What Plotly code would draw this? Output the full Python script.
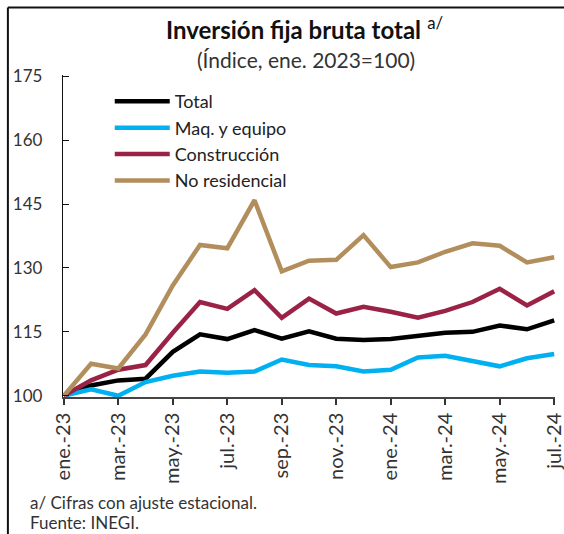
import plotly.graph_objects as go

# meses ene-2023 a jul-2024
meses = ['ene.-23', 'feb.-23', 'mar.-23', 'abr.-23', 'may.-23', 'jun.-23', 'jul.-23',
         'ago.-23', 'sep.-23', 'oct.-23', 'nov.-23', 'dic.-23', 'ene.-24', 'feb.-24',
         'mar.-24', 'abr.-24', 'may.-24', 'jun.-24', 'jul.-24']

total = [100.0, 102.4, 103.6, 104.0, 110.3, 114.4, 113.3, 115.4, 113.4, 115.1,
         113.4, 113.1, 113.3, 114.0, 114.8, 115.0, 116.5, 115.6, 117.7]
maquinaria = [100.0, 101.5, 100.0, 103.2, 104.7, 105.7, 105.4, 105.7, 108.5, 107.2,
              106.9, 105.7, 106.1, 109.0, 109.4, 108.2, 106.9, 108.8, 109.8]
construccion = [100.0, 103.6, 106.1, 107.2, 114.8, 122.0, 120.4, 124.8, 118.3, 122.8,
                119.3, 120.9, 119.7, 118.3, 119.9, 122.0, 125.1, 121.2, 124.5]
no_residencial = [100.0, 107.5, 106.4, 114.4, 125.9, 135.4, 134.6, 145.9, 129.2, 131.7,
                  131.9, 137.7, 130.2, 131.3, 133.8, 135.8, 135.2, 131.3, 132.5]

series = [
    ('Total', total, '#000000'),
    ('Maq. y equipo', maquinaria, '#00B0F0'),
    ('Construcción', construccion, '#9B2247'),
    ('No residencial', no_residencial, '#B38E5D'),
]

y_ticks = [100, 115, 130, 145, 160, 175]
x_idx = list(range(len(meses)))
x_ticks = x_idx[::2]

fuente = 'Lato, Noto Sans, sans-serif'

fig = go.Figure()
for nombre, valores, color in series:
    fig.add_trace(go.Scatter(
        x=x_idx, y=valores, mode='lines', name=nombre,
        line=dict(color=color, width=4.5),
    ))

fig.update_layout(
    width=564, height=534,
    margin=dict(l=63, r=9, t=75, b=137),
    paper_bgcolor='white', plot_bgcolor='white',
    font=dict(family=fuente, color='#333333', size=16),
    showlegend=True,
    legend=dict(
        x=0.095, y=0.975, xanchor='left', yanchor='top',
        bgcolor='rgba(0,0,0,0)', font=dict(size=18, color='#222222'),
        tracegroupgap=0, itemwidth=55, traceorder='normal',
    ),
    xaxis=dict(
        range=[-0.03, 18.03], tickmode='array', tickvals=x_ticks,
        ticktext=[meses[i] for i in x_ticks], tickangle=-90,
        ticks='outside', ticklen=6, tickcolor='#333333', tickwidth=1.5,
        showline=True, linecolor='#444444', linewidth=1.5,
        showgrid=False, zeroline=False, tickfont=dict(size=20),
        automargin=False, ticklabeloverflow='allow',
    ),
    xaxis2=dict(
        range=[-0.03, 18.03], overlaying='x', anchor='y', side='bottom',
        tickmode='array', tickvals=x_ticks, showticklabels=False,
        ticks='inside', ticklen=7, tickcolor='#333333', tickwidth=1.5,
        showline=False, showgrid=False, zeroline=False,
    ),
    yaxis=dict(
        range=[99.7, 175.3], tickmode='array', tickvals=y_ticks,
        ticks='inside', ticklen=6, tickcolor='#111111', tickwidth=1.3,
        showline=True, linecolor='#111111', linewidth=1.3,
        showgrid=False, zeroline=False, tickfont=dict(size=17),
        ticklabelstandoff=16, automargin=False,
    ),
)

# título y subtítulo
fig.add_annotation(
    text='<b>Inversión fija bruta total</b> <sup>a/</sup>',
    xref='paper', yref='paper', x=0.492, y=1.146, xanchor='center', yanchor='middle',
    showarrow=False, font=dict(size=24, color='#111111'),
)
fig.add_annotation(
    text='(Índice, ene. 2023=100)',
    xref='paper', yref='paper', x=0.494, y=1.047, xanchor='center', yanchor='middle',
    showarrow=False, font=dict(size=21, color='#333333'),
)

# notas
fig.add_annotation(
    text='a/ Cifras con ajuste estacional.',
    xref='paper', yref='paper', x=-0.072, y=-0.327, xanchor='left', yanchor='middle',
    showarrow=False, font=dict(size=17, color='#333333'),
)
fig.add_annotation(
    text='Fuente: INEGI.',
    xref='paper', yref='paper', x=-0.072, y=-0.39, xanchor='left', yanchor='middle',
    showarrow=False, font=dict(size=17, color='#333333'),
)

# marco parcial (izquierda y arriba)
fig.add_shape(type='line', xref='paper', yref='paper', x0=-0.112, x1=-0.112,
              y0=-0.45, y1=1.21, line=dict(color='#111111', width=2))
fig.add_shape(type='line', xref='paper', yref='paper', x0=-0.112, x1=1.03,
              y0=1.21, y1=1.21, line=dict(color='#111111', width=2))

fig.write_html('out.html', config={'displayModeBar': False},
               post_script="document.body.style.margin='0';")
